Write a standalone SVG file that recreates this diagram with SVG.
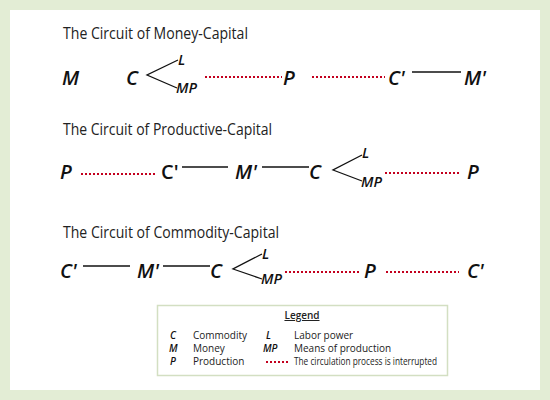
<svg xmlns="http://www.w3.org/2000/svg" width="550" height="400" viewBox="0 0 550 400">
<style>
.title{font-family:"Open Sans","Liberation Sans",Arial,sans-serif;font-size:16px;fill:#222}
.sym{font-family:"Open Sans","Liberation Sans",Arial,sans-serif;font-size:20px;font-style:italic;font-weight:600;fill:#111}
.up{font-style:normal}
.sub{font-family:"Open Sans","Liberation Sans",Arial,sans-serif;font-size:14.5px;font-style:italic;font-weight:600;fill:#111}
.solid{stroke:#111;stroke-width:1.3;fill:none}
.dot{stroke:#c3001e;stroke-width:2;stroke-dasharray:2 2;fill:none}
.lg{font-family:"Open Sans","Liberation Sans",Arial,sans-serif;font-size:10px;fill:#222}
.lgs{font-family:"Open Sans","Liberation Sans",Arial,sans-serif;font-size:10px;font-style:italic;font-weight:600;fill:#111}
</style>
<rect x="0" y="0" width="550" height="400" fill="#e3edd5"/>
<rect x="10" y="10" width="530" height="380" fill="#ffffff"/>

<text class="title" x="63" y="39" textLength="185" lengthAdjust="spacingAndGlyphs">The Circuit of Money-Capital</text>
<text class="title" x="63" y="135" textLength="209" lengthAdjust="spacingAndGlyphs">The Circuit of Productive-Capital</text>
<text class="title" x="63" y="238" textLength="216" lengthAdjust="spacingAndGlyphs">The Circuit of Commodity-Capital</text>

<g id="connectors">
<polyline class="solid" points="178,60 147,75 177,88"/>
<line class="dot" x1="205" y1="77" x2="282" y2="77"/>
<line class="dot" x1="312" y1="77" x2="385" y2="77"/>
<line class="solid" x1="412" y1="72" x2="461" y2="72"/>

<line class="dot" x1="81" y1="174" x2="156" y2="174"/>
<line class="solid" x1="182" y1="167" x2="228" y2="167"/>
<line class="solid" x1="262" y1="167" x2="309" y2="167"/>
<polyline class="solid" points="362,155 333,170 362,181"/>
<line class="dot" x1="385" y1="173" x2="461" y2="173"/>

<line class="solid" x1="83" y1="266" x2="130" y2="266"/>
<line class="solid" x1="163" y1="266" x2="210" y2="266"/>
<polyline class="solid" points="262,254 233,269 262,279"/>
<line class="dot" x1="285" y1="272" x2="361" y2="272"/>
<line class="dot" x1="386" y1="272" x2="459" y2="272"/>
</g>

<g id="r1-M"><text class="sym" x="62" y="85">M</text></g>
<g id="r1-C"><text class="sym" x="126" y="85">C</text></g>
<g id="r1-L"><text class="sub" x="178" y="65">L</text></g>
<g id="r1-MP"><text class="sub" x="176" y="93">MP</text></g>
<g id="r1-P"><text class="sym" x="283" y="85">P</text></g>
<g id="r1-C2"><text class="sym" x="388" y="85">C'</text></g>
<g id="r1-M2"><text class="sym" x="464" y="85">M'</text></g>

<g id="r2-P"><text class="sym" x="60" y="179">P</text></g>
<g id="r2-C2"><text class="sym up" x="161" y="179">C'</text></g>
<g id="r2-M2"><text class="sym" x="235" y="179">M'</text></g>
<g id="r2-C"><text class="sym" x="309" y="179">C</text></g>
<g id="r2-L"><text class="sub" x="362" y="158">L</text></g>
<g id="r2-MP"><text class="sub" x="361" y="187">MP</text></g>
<g id="r2-P2"><text class="sym" x="467" y="179">P</text></g>

<g id="r3-C2"><text class="sym" x="60" y="278">C'</text></g>
<g id="r3-M2"><text class="sym" x="137" y="278">M'</text></g>
<g id="r3-C"><text class="sym" x="210" y="278">C</text></g>
<g id="r3-L"><text class="sub" x="262" y="259">L</text></g>
<g id="r3-MP"><text class="sub" x="261" y="284">MP</text></g>
<g id="r3-P"><text class="sym" x="364" y="278">P</text></g>
<g id="r3-C3"><text class="sym" x="467" y="278">C'</text></g>

<g id="legend">
<rect x="157.5" y="305.5" width="290" height="70" fill="#ffffff" stroke="#d3dfc2" stroke-width="1.5"/>
<text class="lg" x="302" y="319" text-anchor="middle" font-weight="600" text-decoration="underline">Legend</text>
<text class="lgs" x="170" y="339">C</text>
<text class="lg" x="193" y="339">Commodity</text>
<text class="lgs" x="169" y="352">M</text>
<text class="lg" x="193" y="352">Money</text>
<text class="lgs" x="170" y="365">P</text>
<text class="lg" x="193" y="365">Production</text>
<text class="lgs" x="266" y="339">L</text>
<text class="lg" x="294" y="339">Labor power</text>
<text class="lgs" x="263" y="352">MP</text>
<text class="lg" x="294" y="352">Means of production</text>
<line class="dot" x1="266" y1="362" x2="288" y2="362"/>
<text class="lg" x="294" y="365" textLength="143" lengthAdjust="spacingAndGlyphs">The circulation process is interrupted</text>
</g>
</svg>
